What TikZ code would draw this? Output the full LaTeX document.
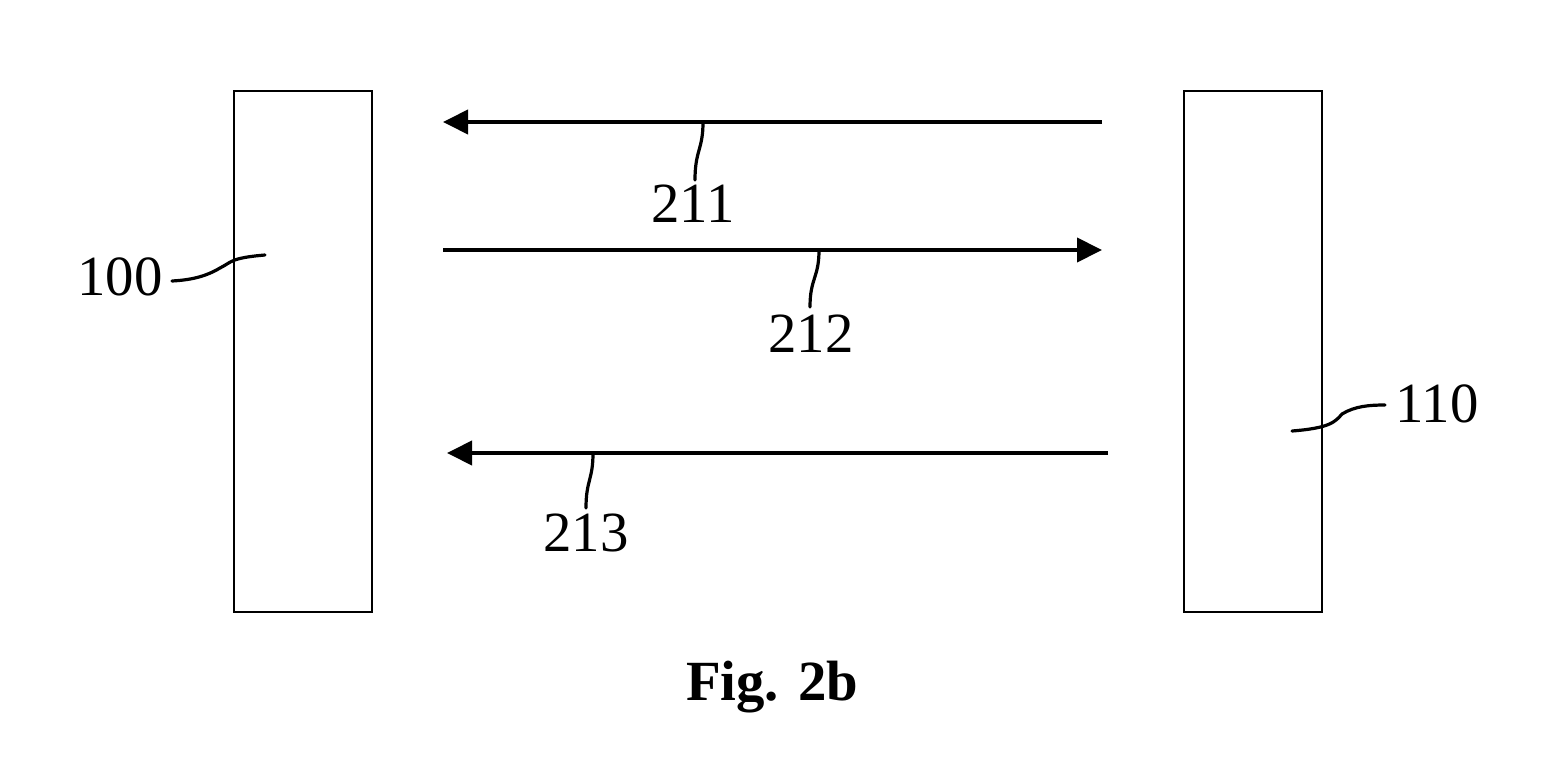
\documentclass[tikz,border=0pt]{standalone}
\usepackage{fontspec}
\setmainfont{Liberation Serif}
\usetikzlibrary{arrows.meta}
\begin{document}
\begin{tikzpicture}[x=1bp,y=-1bp,
  blk/.style={draw,line width=2.6bp,minimum width=138bp,minimum height=521bp,inner sep=0pt,anchor=north west},
  sig/.style={line width=4bp,-{Triangle[length=25bp,width=24bp]}},
  lead/.style={line width=3.2bp,line cap=round},
  lbl/.style={font=\fontsize{57}{60}\selectfont,inner sep=0pt,anchor=base},
]
\useasboundingbox (0,0) rectangle (1545,770);
\node[blk] (box100) at (232.5,89.5) {};
\node[blk] (box110) at (1182.5,89.5) {};
% signal endpoints
\coordinate (a1s) at (1102,122); \coordinate (a1e) at (443,122);
\coordinate (a2s) at (443,250); \coordinate (a2e) at (1102,250);
\coordinate (a3s) at (1108,453); \coordinate (a3e) at (447,453);
\draw[sig] (a1s) -- (a1e);
\draw[sig] (a2s) -- (a2e);
\draw[sig] (a3s) -- (a3e);
% labels
\node[lbl] (l211) at (693,222) {211};
\node[lbl] (l212) at (811,352) {212};
\node[lbl] (l213) at (586,551) {213};
\node[lbl] (l100) at (120,295) {100};
\node[lbl] (l110) at (1437,422) {110};
\node[font=\fontsize{57}{60}\bfseries\selectfont,inner sep=0pt,anchor=base] (fig) at (772,700) {Fig. 2b};
% leaders
\coordinate (p211) at (703,122); \coordinate (q211) at (695,180);
\coordinate (p212) at (819,250); \coordinate (q212) at (810,307);
\coordinate (p213) at (593,453); \coordinate (q213) at (586,508);
\coordinate (p100) at (265,255); \coordinate (q100) at (172,281);
\coordinate (p110) at (1292,431); \coordinate (q110) at (1385,405);
\draw[lead] (p211) .. controls (703,150) and (695,150) .. (q211);
\draw[lead] (p212) .. controls (819,278) and (810,278) .. (q212);
\draw[lead] (p213) .. controls (593,480) and (586,480) .. (q213);
\draw[lead] (p100) .. controls (230,258) and (232,262) .. (220,268) .. controls (205,277) and (190,280) .. (q100);
\draw[lead] (p110) .. controls (1330,428) and (1335,422) .. (1342,414) .. controls (1355,406) and (1370,405) .. (q110);
\end{tikzpicture}
\end{document}
